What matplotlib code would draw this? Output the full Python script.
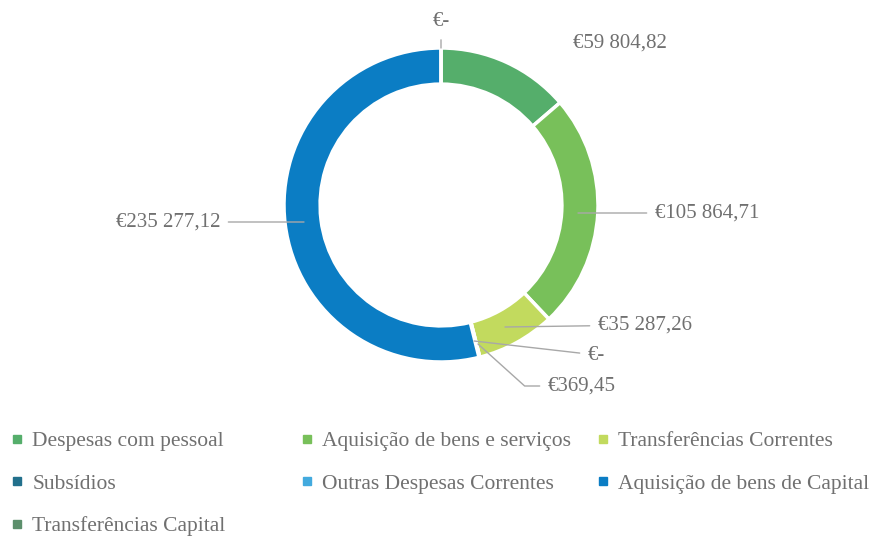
import matplotlib.pyplot as plt
from matplotlib.lines import Line2D

# data
categories = ["Despesas com pessoal", "Aquisição de bens e serviços",
              "Transferências Correntes", "Subsídios",
              "Outras Despesas Correntes", "Aquisição de bens de Capital",
              "Transferências Capital"]
values = [59804.82, 105864.71, 35287.26, 0.0, 369.45, 235277.12, 0.0]
colors = ["#55ae6b", "#78c05a", "#c2da5e", "#22708c", "#43aade", "#0b7dc4", "#5c8f6c"]


def fmt(v):
    if v == 0:
        return "€-"
    s = f"{v:,.2f}"
    return "€" + s.replace(",", " ").replace(".", ",")


labels = [fmt(v) for v in values]

plt.rcParams['font.family'] = ['Liberation Serif', 'DejaVu Serif']
txt_color = "#707070"
line_color = "#a8a8a8"

fig = plt.figure(figsize=(8.8, 5.36), dpi=100)
# ring centre ~ (441, 205) px, radius ~157 px
W, H = 880, 536
cx, cy, r = 441, 205, 157
ax = fig.add_axes([(cx - r) / W, (H - cy - r) / H, 2 * r / W, 2 * r / H])

wedges, _ = ax.pie(values, colors=colors, startangle=90, counterclock=False,
                   radius=1.0, wedgeprops=dict(width=0.23, edgecolor="white", linewidth=2.5))
ax.set_xlim(-1, 1)
ax.set_ylim(-1, 1)
ax.axis("off")


def px(x, y):
    return ((x - cx) / r, (cy - y) / r)


# label placement: (text position px, anchor point px, ha, connection)
place = {
    0: ((573, 43), None, "left", None),
    1: ((655, 213), (578, 213), "left", None),
    2: ((598, 325), (505, 327), "left", None),
    3: ((588, 355), (474, 341), "left", None),
    4: ((548, 386), (478, 344), "left", "angle,angleA=0,angleB=-42,rad=0"),
    5: ((220, 222), (304, 222), "right", None),
    6: ((441, 22), (441, 48), "center", None),
}

for i, (tp, ap, ha, conn) in place.items():
    if ap is None:
        ax.annotate(labels[i], xy=px(*tp), ha=ha, va="center", fontsize=15,
                    color=txt_color, annotation_clip=False)
        continue
    props = dict(arrowstyle="-", color=line_color, lw=1.0, shrinkA=4, shrinkB=0)
    if conn:
        props["connectionstyle"] = conn
        props["relpos"] = (0.0, 0.5)
    ax.annotate(labels[i], xy=px(*ap), xytext=px(*tp), ha=ha, va="center",
                fontsize=15, color=txt_color, arrowprops=props, annotation_clip=False)

# legend, row-major in three columns
handles = [Line2D([], [], marker="s", linestyle="none", markersize=6,
                  markerfacecolor=c, markeredgecolor=c) for c in colors]
cols = [[0, 3, 6], [1, 4], [2, 5]]
col_x = [12, 302, 598]
for idxs, x0 in zip(cols, col_x):
    fig.legend([handles[i] for i in idxs], [categories[i] for i in idxs],
               loc="upper left", bbox_to_anchor=(x0 / W, 1 - 431 / H),
               frameon=False, fontsize=15.5, labelcolor=txt_color,
               handlelength=0.5, handletextpad=0.45, labelspacing=1.05,
               borderaxespad=0, borderpad=0)

fig.savefig("out.png", dpi=100, facecolor="white")
